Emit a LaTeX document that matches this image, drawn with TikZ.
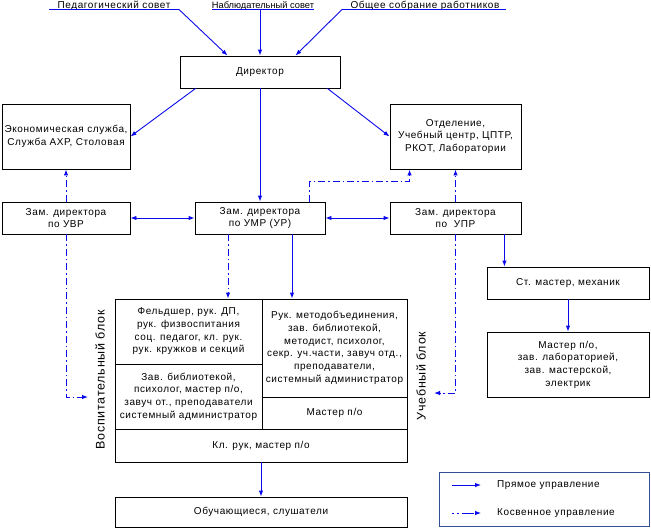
\documentclass[tikz,border=0pt]{standalone}
\usepackage{fontspec}
\setmainfont{Liberation Sans}[LetterSpace=6]
\newfontfamily\plainf{Liberation Sans}
\usetikzlibrary{arrows.meta,calc}
\definecolor{linkblue}{RGB}{10,10,235}
\definecolor{legblue}{RGB}{50,80,150}
\begin{document}
\begin{tikzpicture}[x=1pt,y=-1pt]
\tikzset{
  box/.style={draw, line width=0.9pt, align=center, inner sep=0pt, font=\fontsize{10}{12.7}\selectfont},
  tip/.style={-{Latex[length=6pt,width=4.5pt]}},
  direct/.style={draw=linkblue, line width=0.9pt, tip},
  indirect/.style={direct, line width=1pt, dash pattern=on 7pt off 3pt on 1.5pt off 3pt},
  both/.style={draw=linkblue, line width=0.9pt, {Latex[length=6pt,width=4.5pt]}-{Latex[length=6pt,width=4.5pt]}},
  toptext/.style={anchor=base, inner sep=0pt, font=\fontsize{10}{12}\selectfont},
  side/.style={rotate=90, inner sep=0pt, font=\fontsize{12.5}{14}\selectfont},
  legtext/.style={anchor=west, inner sep=0pt, font=\fontsize{10}{12}\selectfont}
}
\useasboundingbox (0,0) rectangle (651,528);

% top bodies
\node[toptext] (ped) at (114,8.6) {Педагогический совет};
\node[toptext, font=\plainf\fontsize{9.3}{11}\selectfont] (nab) at (263,8.6) {Наблюдательный совет};
\node[toptext] (obs) at (425,8.6) {Общее собрание работников};
\coordinate (pedL) at (49,9.5);  \coordinate (pedR) at (179,9.5);
\coordinate (nabL) at (212,9.5); \coordinate (nabR) at (314,9.5); \coordinate (nabM) at (260,9.5);
\coordinate (obsL) at (342,9.5); \coordinate (obsR) at (506,9.5);
\draw[linkblue, line width=0.9pt] (pedL) -- (pedR) (nabL) -- (nabR) (obsL) -- (obsR);

% boxes
\node[box, minimum width=160pt, minimum height=32pt] (dir) at (260,72) {Директор};
\node[box, minimum width=128pt, minimum height=65pt] (eco) at (66,136.5) {Экономическая служба,\\Служба АХР, Столовая};
\node[box, minimum width=131pt, minimum height=65pt] (otd) at (455.5,136.5) {Отделение,\\Учебный центр, ЦПТР,\\РКОТ, Лаборатории};
\node[box, minimum width=128pt, minimum height=32pt] (uvr) at (66,218) {Зам. директора\\по УВР};
\node[box, minimum width=130pt, minimum height=32pt] (umr) at (260,218) {Зам. директора\\по УМР (УР)};
\node[box, minimum width=131pt, minimum height=32pt] (upr) at (455.5,218) {Зам. директора\\по~~УПР};
\node[box, minimum width=162pt, minimum height=32pt] (stm) at (568,283) {Ст. мастер, механик};
\node[box, minimum width=162pt, minimum height=65pt] (mst) at (568,364.5) {Мастер п/о,\\зав. лабораторией,\\зав. мастерской,\\электрик};

% central block
\node[box, minimum width=147pt, minimum height=65pt] (A) at (188.5,331.5) {Фельдшер, рук. ДП,\\рук. физвоспитания\\соц. педагог, кл. рук.\\рук. кружков и секций};
\node[box, minimum width=147pt, minimum height=65pt] (B) at (188.5,396.5) {Зав. библиотекой,\\психолог, мастер п/о,\\завуч от., преподаватели\\системный администратор};
\node[box, minimum width=145pt, minimum height=98pt] (C) at (334.5,348) {Рук. методобъединения,\\зав. библиотекой,\\методист, психолог,\\секр. уч.части, завуч отд.,\\преподаватели,\\системный администратор};
\node[box, minimum width=145pt, minimum height=32pt] (D) at (334.5,413) {Мастер п/о};
\node[box, minimum width=292pt, minimum height=33pt] (E) at (261,445.5) {Кл. рук, мастер п/о};
\node[box, minimum width=292pt, minimum height=30pt] (obu) at (261,512) {Обучающиеся, слушатели};

\node[side] (vosp) at (100,380) {Воспитательный блок};
\node[side] (uch) at (421,376) {Учебный блок};

% connectors from top
\draw[direct] (pedR) -- ($(dir.north west)+(48,0)$);
\draw[direct] (nabM) -- (nabM |- dir.north);
\draw[direct] (obsL) -- ($(dir.north east)+(-45,0)$);

\draw[direct] ($(dir.south west)+(16,0)$) -- (eco.east);
\draw[direct] ($(dir.south east)+(-13,0)$) -- (otd.west);
\draw[direct] (dir) -- (umr);

\draw[both] (uvr.east) -- (umr.west);
\draw[both] (umr.east) -- (upr.west);

\draw[indirect] (uvr.north) -- (eco.south);
\draw[indirect] ($(umr.north east)+(-16,0)$) -- ++(0,-20) -| ($(otd.south west)+(20,0)$);
\draw[indirect] (upr.north) -- (otd.south);

\coordinate (p1) at ($(upr.south east)+(-17,0)$);
\draw[direct] (p1) -- (p1 |- stm.north);
\draw[direct] (stm.south) -- (mst.north);

\coordinate (p2) at ($(umr.south)+(-32,0)$);
\coordinate (p3) at ($(umr.south)+(32,0)$);
\draw[indirect] (p2) -- (p2 |- A.north);
\draw[direct] (p3) -- (p3 |- C.north);

\coordinate (vospIn) at (88,397);
\coordinate (uchIn) at (434,393);
\draw[indirect] (uvr.south) |- (vospIn);
\draw[indirect] (upr.south) |- (uchIn);

\draw[direct] (E.south) -- (obu.north);

% legend
\node[draw=legblue, line width=0.9pt, minimum width=210pt, minimum height=54pt, inner sep=0pt] (leg) at (544,499) {};
\coordinate (l1a) at (452,485); \coordinate (l1b) at (481,485);
\coordinate (l2a) at (452,513); \coordinate (l2b) at (481,513);
\draw[direct] (l1a) -- (l1b);
\draw[direct, dash pattern=on 2pt off 3pt on 2pt off 3pt on 10pt off 0pt] (l2a) -- (l2b);
\node[legtext] (t1) at (497,485) {Прямое управление};
\node[legtext] (t2) at (497,513) {Косвенное управление};
\end{tikzpicture}
\end{document}
